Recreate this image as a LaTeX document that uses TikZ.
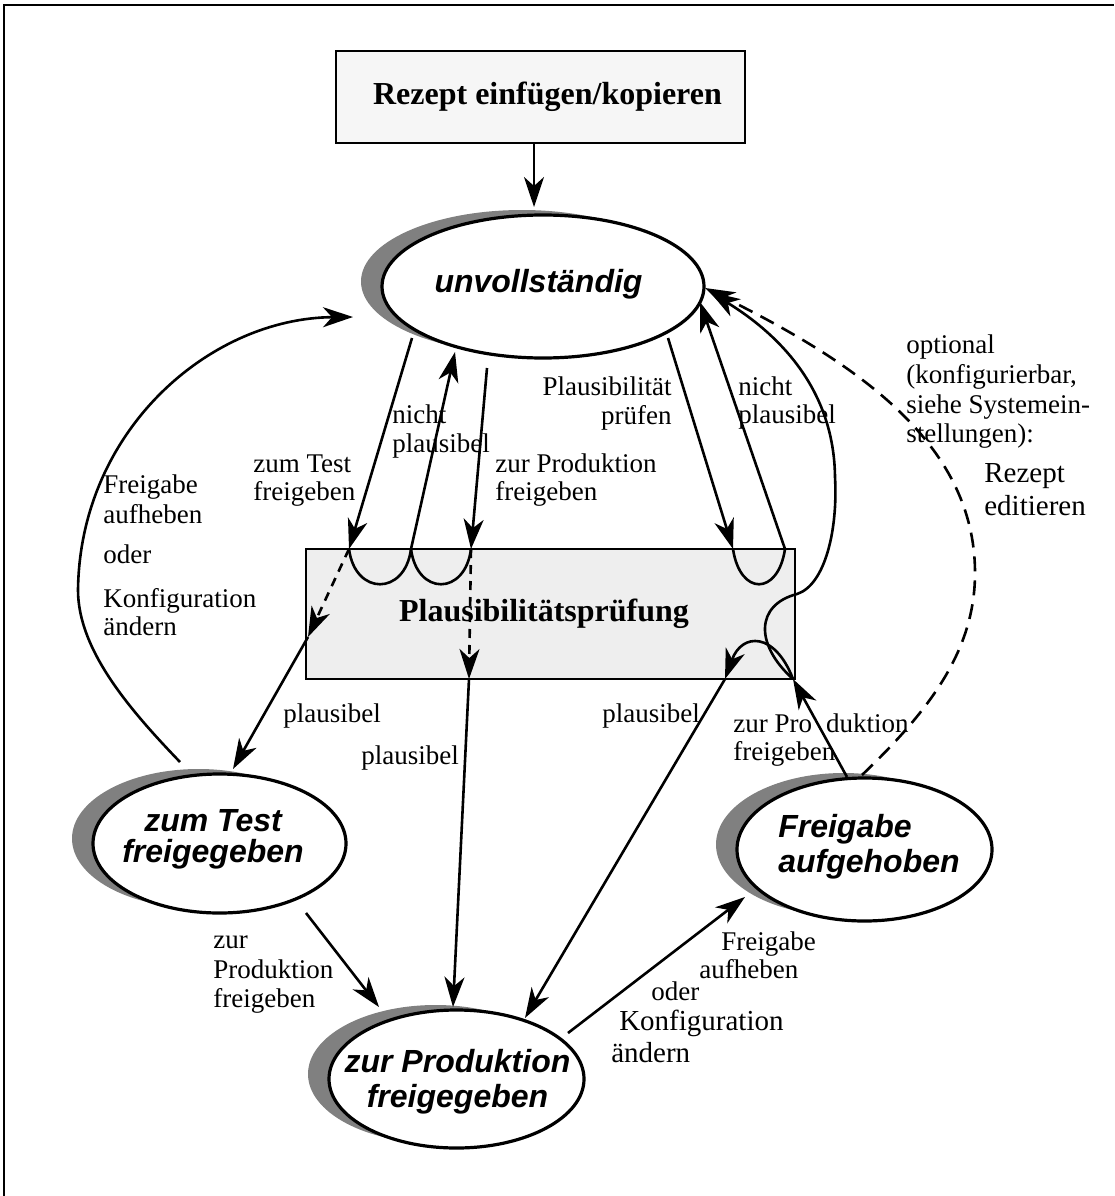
\documentclass[tikz,border=0pt]{standalone}
\usepackage{fontspec}
\setmainfont{Liberation Serif}
\newfontfamily\statefont{Liberation Sans}
\usetikzlibrary{arrows.meta,shapes.geometric,shadows}

\definecolor{shgray}{gray}{0.5}
\definecolor{boxgray}{gray}{0.935}
\definecolor{topgray}{gray}{0.965}

\begin{document}
\begin{tikzpicture}[x=1pt,y=-1pt,
  line width=2.6pt,
  >={Stealth[length=30pt,width=20pt,inset=9pt]},
  state/.style={ellipse, draw, line width=3.2pt, fill=white, inner sep=0pt,
    drop shadow={shadow xshift=-21pt, shadow yshift=5pt, fill=shgray, opacity=1}},
  stext/.style={inner sep=0pt, align=center,
    font=\statefont\bfseries\itshape\fontsize{32}{35}\selectfont},
  procbox/.style={rectangle, draw, line width=2.8pt, inner sep=0pt,
    font=\bfseries\fontsize{32}{36}\selectfont},
  lbl/.style={anchor=base west, inner sep=0pt, font=\fontsize{27}{30}\selectfont},
  lblr/.style={lbl, anchor=base east},
  biglbl/.style={lbl, font=\fontsize{29}{32}\selectfont},
  shortdash/.style={dash pattern=on 9pt off 7pt},
  longdash/.style={dash pattern=on 15pt off 9pt},
]
\useasboundingbox (0,0) rectangle (1114,1196);

% page frame
\draw[line width=2.8pt] (4,1196) -- (4,5) -- (1114,5);

% process boxes
\node[procbox, fill=topgray, minimum width=409pt, minimum height=92pt] (R) at (540.5,97)
  {\hspace*{14pt}Rezept einfügen/kopieren};
\node[procbox, fill=boxgray, minimum width=489pt, minimum height=130pt] (C) at (550.5,614)
  {\raisebox{-5pt}{Plausibilitätsprüfung}\hspace*{13pt}};

% states
\node[state, minimum width=322pt, minimum height=143pt] (U) at (543,286.5) {};
\node[stext] (Ut) at (538.5,284) {unvollständig};
\node[state, minimum width=253pt, minimum height=139pt] (T) at (219.5,843.5) {};
\node[stext, font=\statefont\bfseries\itshape\fontsize{32}{31}\selectfont] (Tt) at (213,839.5)
  {zum Test\\freigegeben};
\node[state, minimum width=255pt, minimum height=143pt] (F) at (864.5,849.5) {};
\node[stext, align=left, anchor=west] (Ft) at (777,846.5) {Freigabe\\aufgehoben};
\node[state, minimum width=255pt, minimum height=138pt] (P) at (456.5,1079) {};
\node[stext] (Pt) at (457.5,1081.5) {zur Produktion\\freigegeben};

% ports on the state ellipses
\coordinate (u0) at (534,207);
\coordinate (u1) at (412,338);
\coordinate (u2) at (455,352);
\coordinate (u3) at (487,368);
\coordinate (u4) at (668,338);
\coordinate (u5) at (700,302);
\coordinate (u6) at (710,292);
\coordinate (u7) at (705,288);
\coordinate (u8) at (353,317);
\coordinate (t1) at (233,769);
\coordinate (t2) at (180,762);
\coordinate (t3) at (306,913);
\coordinate (p1) at (379,1007);
\coordinate (p2) at (453,1007);
\coordinate (p3) at (525,1018);
\coordinate (p4) at (568,1033);
\coordinate (f1) at (745,897);
\coordinate (f2) at (847,777);
\coordinate (f3) at (862,775);

% ports on the check box
\coordinate (c1) at (349,549);
\coordinate (c2) at (411,549);
\coordinate (c3) at (471,549);
\coordinate (c4) at (733,549);
\coordinate (c5) at (785,549);
\coordinate (cL) at (308,637);
\coordinate (cB) at (469,679);
\coordinate (cBR) at (793,679);
\coordinate (cB2) at (725,679);
\coordinate (cR) at (797,594);

% entry
\draw[->] (R.south -| u0) -- (u0);

% into the check and back
\draw[->] (u1) -- (c1);
\draw (c1) .. controls (355,596) and (405,596) .. (c2);
\draw[->] (c2) -- (u2);
\draw[->] (u3) -- (c3);
\draw (c3) .. controls (465,596) and (417,596) .. (c2);
\draw[->] (u4) -- (c4);
\draw (c4) .. controls (740,596) and (778,596) .. (c5);
\draw[->] (c5) -- (u5);

% plausible results
\draw[->, shortdash] (c1) -- (cL);
\draw[->] (cL) -- (t1);
\draw[->, shortdash] (c3) -- (cB);
\draw[->] (cB) -- (p2);

% release from "Freigabe aufgehoben"
\draw[->] (f2) -- (cBR);
\draw[->] (cBR) .. controls (775,632) and (742,632) .. (cB2);
\draw[->] (cB2) -- (p3);
\draw[->] (cBR) .. controls (755,645) and (755,605) .. (cR)
  .. controls (825,585) and (838,530) .. (835,477)
  .. controls (834,390) and (780,335) .. (u6);
\draw[->, longdash] (f3) .. controls (930,710) and (975,650) .. (975,573)
  .. controls (975,440) and (850,360) .. (u7);

% revoking from "zum Test freigegeben"
\draw[->] (t2) .. controls (130,710) and (78,650) .. (78,590)
  .. controls (80,430) and (210,318) .. (u8);

% lower transitions
\draw[->] (t3) -- (p1);
\draw[->] (p4) -- (f1);

% labels
\node[lbl] (a1) at (252,472) {zum Test};
\node[lbl] (a2) at (252,500) {freigeben};
\node[lbl] (b1) at (391,423) {nicht};
\node[lbl] (b2) at (391,452) {plausibel};
\node[lbl] (d1) at (494,472) {zur Produktion};
\node[lbl] (d2) at (494,500) {freigeben};
\node[lblr] (e1) at (673,395) {Plausibilität};
\node[lblr] (e2) at (673,424) {prüfen};
\node[lbl] (g1) at (737,395) {nicht};
\node[lbl] (g2) at (737,423) {plausibel};
\node[lbl] (h1) at (905,353) {optional};
\node[lbl] (h2) at (905,383) {(konfigurierbar,};
\node[lbl] (h3) at (905,413) {siehe Systemein-};
\node[lbl] (h4) at (905,442) {stellungen):};
\node[biglbl] (k1) at (983,482) {Rezept};
\node[biglbl] (k2) at (983,515) {editieren};
\node[lbl] (m1) at (102,493) {Freigabe};
\node[lbl] (m2) at (102,523) {aufheben};
\node[lbl] (m3) at (102,563) {oder};
\node[lbl] (m4) at (102,607) {Konfiguration};
\node[lbl] (m5) at (102,635) {ändern};
\node[lbl] (n1) at (282,722) {plausibel};
\node[lbl] (n2) at (360,764) {plausibel};
\node[lbl] (n3) at (601,722) {plausibel};
\node[lbl] (q1) at (732,732) {zur Pro\hspace*{14pt}duktion};
\node[lbl] (q2) at (732,760) {freigeben};
\node[lbl] (s1) at (212,948) {zur};
\node[lbl] (s2) at (212,978) {Produktion};
\node[lbl] (s3) at (212,1007) {freigeben};
\node[lbl] (v1) at (720,950) {Freigabe};
\node[lbl] (v2) at (698,978) {aufheben};
\node[lbl] (v3) at (650,1000) {oder};
\node[biglbl] (v4) at (618,1030) {Konfiguration};
\node[biglbl] (v5) at (610,1062) {ändern};
\end{tikzpicture}
\end{document}
